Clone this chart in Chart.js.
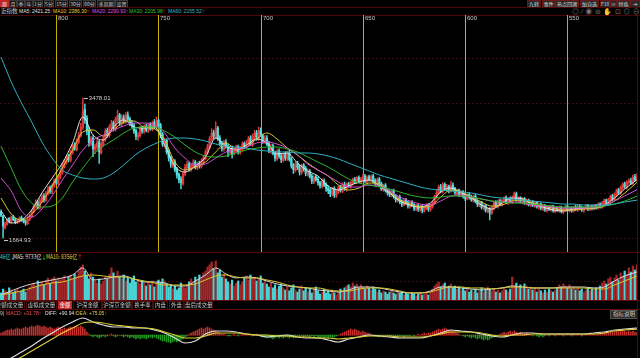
<!DOCTYPE html>
<html><head><meta charset="utf-8">
<script src="https://cdn.jsdelivr.net/npm/chart.js@4.4.0/dist/chart.umd.min.js"></script>
<style>
html,body{margin:0;padding:0;background:#000;width:640px;height:358px;overflow:hidden;font-family:"Liberation Sans","Noto Sans CJK SC",sans-serif;}
canvas{position:absolute;left:0;}
.t{position:absolute;white-space:nowrap;font-size:6px;line-height:7px;transform:scaleX(0.83);transform-origin:0 0;}
.bt{position:absolute;top:0;height:6px;font-size:5px;line-height:6px;text-align:center;color:#c4c4c4;background:#161616;border:1px solid #3a3a3a;box-sizing:content-box;white-space:nowrap;overflow:hidden;font-family:"Noto Sans CJK SC",sans-serif;}
.rb{background:#2a2a2a;border-color:#6a1818;color:#ddd;}
.hl{position:absolute;left:0;width:640px;height:1px;background:#4a0808;}
.tab{position:absolute;top:301px;height:7px;font-size:5.5px;line-height:7px;color:#c8c8c8;border:1px solid #4a0c0c;text-align:center;white-space:nowrap;overflow:hidden;font-family:"Noto Sans CJK SC",sans-serif;}
.cjk{font-family:"Noto Sans CJK SC",sans-serif;}
</style></head><body>

<!-- toolbar -->
<div class="bt" style="left:0;width:7px;background:#c0262a;color:#fff;border-color:#c0262a">周</div>
<div class="bt" style="left:9px;width:6px">月</div>
<div class="bt" style="left:17px;width:6px">季</div>
<div class="bt" style="left:25px;width:6px">年</div>
<div class="bt" style="left:33px;width:8px">1分</div>
<div class="bt" style="left:44px;width:8px">5分</div>
<div class="bt" style="left:55px;width:11px">15分</div>
<div class="bt" style="left:69px;width:11px">30分</div>
<div class="bt" style="left:83px;width:11px">60分</div>
<div class="bt" style="left:97px;width:16px">多周期</div>
<div class="bt" style="left:115px;width:11px">设置</div>

<div class="bt rb" style="left:527px;width:12px">九转</div>
<div class="bt rb" style="left:542px;width:11px">事件</div>
<div class="bt rb" style="left:555px;width:22px">热点回溯</div>
<div class="bt rb" style="left:580px;width:17px">加自选</div>
<div class="bt rb" style="left:600px;width:8px">F10</div>
<div class="bt rb" style="left:610px;width:5px">≡</div>
<div class="bt rb" style="left:617px;width:11px">特色</div>
<div class="bt rb" style="left:630px;width:8px">⇥</div>

<div class="hl" style="top:7px"></div>
<div class="hl" style="top:15px"></div>

<!-- main legend -->
<div class="t cjk" style="left:1px;top:8px;color:#c8c8c8;transform:none;font-size:5.5px">近指数</div>
<div class="t" style="left:19px;top:8px;color:#e0e0e0">MA5: 2421.25<span style="color:#ff4040">↑</span></div>
<div class="t" style="left:53px;top:8px;color:#e0d040">MA10: 2386.30<span style="color:#ff4040">↑</span></div>
<div class="t" style="left:92px;top:8px;color:#e050e0">MA20: 2290.93<span style="color:#ff4040">↑</span></div>
<div class="t" style="left:129px;top:8px;color:#30c030">MA30: 2205.98<span style="color:#ff4040">↑</span></div>
<div class="t" style="left:168px;top:8px;color:#30b8c8">MA60: 2155.52<span style="color:#ff4040">↑</span></div>
<div class="t" style="left:572px;top:8px;color:#777;font-size:7px;letter-spacing:2.5px;transform:none">◎∕◉⊜✋⊡⊙⊖</div>

<canvas id="cMain" width="638" height="237" style="top:15px"></canvas>

<div class="hl" style="top:252px"></div>
<div class="t cjk" style="left:0px;top:253px;color:#40d0d0">46亿<span>↓</span></div>
<div class="t cjk" style="left:13px;top:253px;color:#e0e0e0">MA5: 9733亿<span style="color:#30d030">↓</span></div>
<div class="t cjk" style="left:46px;top:253px;color:#e0d040">MA10: 8356亿<span style="color:#ff4040">↑</span></div>

<canvas id="cVol" width="638" height="49" style="top:252px"></canvas>

<div class="hl" style="top:300px;background:#5a0a0a"></div>
<div class="tab" style="left:-6px;width:29px">金额成交量</div>
<div class="tab" style="left:26px;width:29px">虚拟成交量</div>
<div class="tab" style="left:58px;width:12px;background:#c0262a;color:#fff;border-color:#c0262a">金额</div>
<div class="tab" style="left:73px;width:27px">沪深金额</div>
<div class="tab" style="left:102px;width:28px">沪深京金额</div>
<div class="tab" style="left:132px;width:19px">换手率</div>
<div class="tab" style="left:153px;width:13px">内盘</div>
<div class="tab" style="left:169px;width:13px">外盘</div>
<div class="tab" style="left:184px;width:27px">盘后成交量</div>
<div class="hl" style="top:309px;background:#5a0a0a"></div>

<div class="t" style="left:0px;top:310px;color:#c8c8c8">9)</div>
<div class="t" style="left:6px;top:310px;color:#ff5050">MACD: +31.78<span>↑</span></div>
<div class="t" style="left:45px;top:310px;color:#e0e0e0">DIFF: +90.94<span style="color:#ff4040">↑</span></div>
<div class="t" style="left:76px;top:310px;color:#e0d040">DEA: +75.05<span style="color:#ff4040">↑</span></div>
<div class="t cjk" style="left:610px;top:310px;width:26px;height:7px;background:#262626;border:1px solid #555;color:#ccc;text-align:center;font-size:5.5px;transform:none">指标说明</div>

<canvas id="cMacd" width="638" height="43" style="top:315px"></canvas>
<div style="position:absolute;left:637px;top:15px;width:1px;height:343px;background:#4a0808"></div>

<script>
// ---------- data ----------
const markIdx = [27, 77, 127, 177, 227, 277];
const markLabels = ['800', '750', '700', '650', '600', '550'];

const openP = [
2000,1950,1800,1840,1920,1870,1940,1910,1860,1880,
1930,1910,1890,1850,1900,1940,2000,2070,2130,2050,
2140,2210,2150,2240,2320,2260,2340,2420,2370,2450,
2510,2590,2640,2720,2670,2770,2870,2810,2910,2990,
3090,3330,3220,3060,2880,2960,2810,2840,2910,2770,
2870,2940,3060,2990,3090,3160,3070,3190,3260,3140,
3230,3170,3260,3210,3160,3130,3060,2970,2990,3090,
3040,3110,3050,3130,3070,3160,3090,3190,3130,3010,
2870,2930,2790,2710,2600,2660,2560,2490,2430,2370,
2490,2570,2630,2550,2590,2650,2570,2630,2590,2650,
2690,2770,2840,2940,3030,2970,3090,2960,2890,2810,
2910,2860,2770,2830,2750,2790,2850,2770,2810,2890,
2840,2890,2960,2870,2970,3030,2950,3060,2990,2910,
2960,2890,2790,2860,2770,2690,2790,2730,2670,2750,
2690,2770,2690,2610,2540,2630,2590,2510,2610,2570,
2490,2530,2470,2390,2460,2430,2390,2330,2410,2360,
2310,2290,2230,2310,2210,2250,2330,2270,2360,2290,
2370,2330,2370,2430,2380,2450,2390,2420,2470,2390,
2460,2410,2470,2410,2370,2430,2370,2290,2350,2290,
2260,2220,2280,2210,2150,2200,2150,2090,2160,2130,
2070,2130,2100,2040,2090,2030,2080,2010,2050,2100,
2030,2070,2110,2190,2250,2330,2270,2360,2290,2340,
2270,2350,2310,2240,2290,2220,2270,2210,2170,2230,
2200,2150,2210,2150,2090,2130,2050,2090,2010,2050,
1990,2050,2130,2070,2150,2090,2140,2190,2120,2180,
2130,2180,2240,2150,2190,2130,2180,2110,2160,2090,
2140,2080,2130,2060,2110,2040,2090,2020,2070,2030,
2080,2010,2060,2020,2070,2000,2030,2080,2020,2060,
2010,2070,2030,2080,2060,2020,2050,2090,2030,2080,
2040,2090,2050,2110,2060,2110,2160,2100,2150,2210,
2160,2220,2290,2240,2310,2370,2320,2380,2410,2370,2460,2410];

const closeP = [
1960,1820,1850,1900,1880,1930,1900,1870,1890,1920,
1900,1880,1860,1910,1950,2010,2080,2120,2060,2150,
2200,2160,2250,2300,2270,2350,2400,2380,2460,2520,
2600,2650,2700,2680,2780,2850,2820,2920,3000,3100,
3300,3200,3050,2900,2950,2820,2850,2900,2780,2880,
2950,3050,3000,3100,3150,3080,3200,3250,3150,3220,
3180,3250,3200,3150,3120,3050,2980,3000,3080,3050,
3100,3060,3120,3080,3150,3100,3180,3120,3000,2880,
2920,2780,2700,2620,2650,2550,2480,2420,2380,2500,
2580,2620,2560,2600,2640,2580,2620,2600,2660,2700,
2780,2850,2950,3020,2980,3080,2950,2880,2820,2900,
2850,2780,2820,2760,2800,2840,2780,2820,2880,2850,
2900,2950,2880,2980,3020,2960,3050,3000,2920,2950,
2880,2800,2850,2760,2700,2780,2720,2680,2740,2700,
2760,2680,2600,2550,2620,2580,2520,2600,2560,2500,
2520,2460,2400,2450,2420,2380,2340,2400,2350,2300,
2280,2240,2300,2220,2260,2320,2280,2350,2300,2360,
2340,2380,2420,2390,2440,2400,2430,2460,2400,2450,
2420,2460,2400,2380,2420,2360,2300,2340,2280,2250,
2230,2270,2200,2160,2190,2140,2100,2150,2120,2080,
2120,2090,2050,2080,2040,2070,2020,2060,2090,2040,
2080,2120,2200,2260,2320,2280,2350,2300,2330,2280,
2340,2300,2250,2280,2230,2260,2200,2180,2220,2190,
2160,2200,2140,2100,2120,2060,2080,2020,2040,1990,
2060,2120,2080,2140,2100,2150,2180,2130,2170,2140,
2190,2230,2160,2180,2140,2170,2120,2150,2100,2130,
2090,2120,2070,2100,2050,2080,2030,2060,2040,2070,
2020,2050,2030,2060,2010,2040,2070,2030,2050,2020,
2060,2040,2070,2050,2030,2060,2080,2040,2070,2050,
2080,2060,2100,2070,2120,2150,2110,2160,2200,2170,
2230,2280,2250,2320,2360,2330,2390,2400,2380,2450,2420,2460];

const highP = [
2030,1960,1870,1920,1930,1950,1960,1920,1910,1940,
1950,1920,1900,1930,1970,2030,2100,2160,2150,2180,
2230,2240,2270,2330,2340,2370,2430,2440,2480,2550,
2630,2680,2730,2750,2800,2880,2900,2950,3030,3150,
3478.01,3400,3250,3100,2980,2990,2880,2950,2930,2910,
2980,3080,3090,3130,3190,3180,3230,3320,3280,3260,
3260,3290,3300,3230,3190,3150,3080,3030,3110,3110,
3130,3140,3150,3160,3180,3200,3230,3210,3150,3030,
2960,2950,2810,2730,2680,2680,2580,2510,2460,2530,
2620,2660,2650,2630,2680,2670,2650,2660,2690,2730,
2810,2880,2980,3080,3060,3170,3110,2990,2920,2930,
2940,2880,2850,2860,2830,2870,2870,2850,2910,2910,
2930,2980,2990,3010,3060,3060,3100,3090,3010,2990,
2990,2920,2880,2880,2790,2810,2820,2760,2760,2780,
2790,2800,2710,2630,2650,2660,2610,2620,2630,2590,
2560,2550,2490,2470,2480,2450,2400,2430,2430,2380,
2340,2310,2320,2330,2280,2340,2350,2380,2390,2380,
2390,2400,2440,2450,2460,2470,2450,2490,2490,2470,
2480,2480,2490,2430,2440,2450,2390,2360,2370,2300,
2290,2290,2300,2230,2210,2220,2160,2170,2180,2140,
2140,2150,2110,2100,2100,2090,2090,2080,2110,2110,
2100,2140,2220,2290,2350,2360,2380,2380,2360,2350,
2400,2380,2320,2300,2300,2280,2280,2230,2240,2250,
2220,2220,2230,2160,2140,2140,2100,2100,2060,2060,
2080,2140,2150,2160,2170,2170,2200,2210,2190,2200,
2210,2260,2260,2200,2200,2190,2190,2170,2170,2150,
2150,2140,2140,2120,2120,2100,2100,2080,2080,2090,
2090,2070,2070,2080,2080,2060,2090,2090,2070,2070,
2080,2090,2090,2100,2080,2070,2100,2100,2090,2090,
2100,2100,2120,2120,2140,2170,2170,2180,2220,2230,
2250,2300,2310,2340,2380,2390,2410,2430,2440,2480,2490,2500];

const lowP = [
1940,1664.93,1780,1830,1860,1860,1890,1850,1850,1870,
1880,1860,1830,1840,1890,1930,1990,2050,2040,2040,
2120,2130,2140,2220,2240,2240,2320,2360,2350,2430,
2490,2570,2620,2650,2650,2750,2800,2790,2890,2970,
3070,3150,3000,2850,2860,2720,2760,2800,2630,2750,
2850,2920,2970,2970,3060,3050,3050,3170,3120,3110,
3150,3150,3180,3120,3090,3020,2940,2930,2970,3020,
3020,3040,3030,3060,3050,3080,3070,3100,2960,2850,
2840,2750,2660,2580,2580,2520,2440,2380,2300,2350,
2470,2550,2530,2530,2570,2560,2550,2570,2570,2630,
2680,2750,2820,2920,2950,2950,2930,2860,2790,2790,
2830,2720,2750,2700,2740,2770,2750,2750,2790,2820,
2820,2870,2860,2850,2950,2930,2930,2980,2890,2890,
2860,2770,2760,2740,2660,2670,2700,2640,2650,2670,
2670,2660,2570,2500,2520,2550,2480,2490,2530,2470,
2470,2440,2370,2370,2400,2350,2310,2310,2330,2270,
2240,2200,2210,2190,2190,2240,2260,2250,2280,2270,
2320,2310,2350,2370,2370,2380,2370,2400,2380,2370,
2400,2390,2380,2350,2350,2340,2280,2270,2260,2220,
2200,2200,2180,2130,2130,2110,2070,2080,2100,2050,
2050,2070,2020,2020,2010,2010,1990,2000,2030,2010,
2010,2050,2100,2170,2230,2250,2250,2280,2270,2250,
2260,2280,2230,2220,2200,2200,2180,2150,2160,2170,
2140,2130,2120,2070,2070,2040,2030,2000,1990,1900,
1970,2030,2060,2050,2080,2080,2120,2110,2100,2120,
2110,2160,2140,2130,2120,2110,2100,2090,2080,2070,
2070,2060,2050,2040,2030,2020,2010,2000,2020,2010,
2000,1990,2010,2000,1990,1980,2010,2010,2000,2000,
2000,2020,2010,2030,2010,2000,2040,2020,2020,2030,
2030,2040,2040,2050,2050,2100,2100,2090,2140,2150,
2150,2200,2230,2230,2290,2310,2300,2360,2360,2360,2400,2400];

// moving-average lines, read at these bar positions
const maIdx = [0,5,10,15,20,25,30,35,40,45,50,55,60,65,70,75,80,85,90,95,100,105,110,115,120,125,130,135,140,145,150,155,160,165,170,175,180,185,190,195,200,205,210,215,220,225,230,235,240,245,250,255,260,265,270,275,280,285,290,295,300,305,311];

const ma5 = [2015,1859,1898,2028,2248,2442,2636,2895,3232,2999,2934,3102,3193,3102,3089,3102,2869,2597,2520,2597,2714,2960,2856,2805,2869,2947,2895,2753,2766,2636,2533,2468,2338,2287,2338,2390,2416,2338,2248,2144,2092,2066,2118,2261,2312,2248,2183,2092,2040,2118,2183,2170,2105,2066,2028,2015,2040,2053,2053,2092,2183,2299,2421.25];
const ma10 = [2183,1976,1898,1976,2131,2338,2571,2805,3038,3064,2986,3064,3167,3180,3102,3077,2934,2649,2546,2584,2649,2779,2895,2817,2843,2947,3025,2947,2830,2740,2636,2546,2468,2351,2287,2312,2377,2364,2261,2157,2105,2066,2079,2196,2287,2261,2196,2131,2079,2092,2144,2157,2118,2079,2053,2028,2028,2040,2053,2079,2144,2248,2386.30];
const ma20 = [2442,2274,2015,1937,2040,2209,2416,2610,2805,2934,2999,3064,3115,3154,3154,3128,3025,2830,2701,2610,2623,2701,2779,2817,2843,2895,2908,2882,2830,2740,2623,2546,2468,2390,2325,2325,2351,2338,2274,2196,2144,2105,2092,2144,2209,2222,2196,2170,2144,2131,2131,2118,2092,2079,2066,2053,2053,2053,2066,2092,2144,2209,2290.93];
const ma30 = [2856,2571,2287,2118,2066,2079,2183,2390,2571,2740,2856,2934,3025,3089,3102,3102,3051,2973,2869,2779,2727,2714,2727,2766,2805,2830,2843,2843,2817,2779,2714,2649,2584,2507,2429,2377,2351,2325,2299,2261,2222,2196,2183,2196,2209,2209,2196,2170,2144,2131,2118,2118,2105,2092,2079,2066,2066,2066,2066,2079,2105,2144,2205.98];
const ma60 = [4009,3685,3413,3167,2908,2701,2545,2481,2442,2429,2442,2507,2610,2727,2817,2882,2934,2960,2960,2947,2921,2882,2856,2843,2830,2805,2792,2779,2779,2766,2766,2753,2727,2688,2636,2584,2533,2481,2442,2403,2364,2325,2299,2287,2274,2261,2248,2222,2196,2183,2170,2157,2144,2131,2118,2105,2105,2092,2092,2092,2105,2131,2155.52];

// turnover (亿)
const volume = [
2700,4000,3400,3000,4400,3700,2700,3400,4000,3000,
3400,4000,3000,3700,4700,5400,6000,5000,6700,5700,
6400,5400,7000,7700,6000,7400,8000,6700,7700,7000,
7400,8400,6700,8000,8700,7700,9000,8400,10000,11400,
12100,10000,8700,7400,9400,8000,6700,6000,7400,5700,
6700,8000,7400,9000,11100,9400,8400,10000,8000,7400,
8700,6700,7700,6000,7400,8400,6400,7000,5700,6700,
6000,5000,6400,5400,6700,4700,5700,7000,6000,7400,
6700,5700,4700,5400,4000,5000,3700,4400,6000,4700,
4400,5400,6400,7400,6000,8000,7000,8700,7700,9400,
10000,11400,12100,13100,10700,13400,9400,10400,8000,9000,
7400,6400,5700,7000,5000,6000,6700,5400,6400,7700,
8400,7000,8700,7700,8000,6700,7400,8400,6000,7000,
5700,4700,6000,4400,5400,4000,5000,5700,4400,3700,
4700,3400,4400,5400,3700,3000,4000,5000,3400,4400,
3000,4000,2700,3700,4700,3400,2300,3000,4000,2700,
3400,2300,3700,2700,2000,3000,4000,3400,4400,5000,
5400,4700,6000,5000,5700,4400,5400,4700,4000,5000,
4400,3700,4700,4000,3000,3700,2700,3400,3000,2300,
3000,3400,2700,2300,3400,2700,3000,2000,2700,2300,
2000,2700,2300,1700,2300,3000,2000,2300,2700,2000,
3000,4000,5000,5700,6400,4700,5400,6000,4400,5000,
5700,4400,5000,4000,4700,3700,4400,3400,4000,3000,
3700,3000,4000,2700,3400,4400,3000,3700,4700,4000,
3400,4000,3000,3700,2700,3400,4400,3700,3000,4000,
8000,5000,6000,4700,5400,4400,5700,5000,4000,4700,
3700,4400,3000,4000,3400,2700,3700,3000,4000,3400,
3000,3700,4400,5400,4700,5700,5000,4400,5400,4000,
4700,3700,4400,3400,4000,3000,3700,4400,3400,4000,
3700,4400,3400,5000,6000,6700,5700,7400,8000,6400,
7700,8700,7000,9400,8400,10000,9000,11100,9700,11700,10400,12100];

const volMa5 = [2010,3350,4690,5700,6370,7040,7710,8710,11060,7040,7370,8040,8380,7370,6370,6370,6030,5030,5030,6700,8710,11060,9050,7710,8040,7710,6700,5700,5030,4690,4360,3690,3350,3020,3690,4690,4690,4360,3690,3020,2680,2680,3350,4690,4690,4360,4020,3690,4020,4360,5030,4690,4360,4360,4360,4690,4690,4690,4360,4690,6700,8380,9733];
const volMa10 = [2010,2680,3350,4360,5360,6030,6370,7370,8380,8710,8380,8040,8040,7370,6700,6030,5360,5360,5360,5700,7040,8380,8710,8040,7710,7710,7040,6370,5360,4690,4360,4360,3690,3350,3350,4020,4360,4360,4020,3350,2680,2680,3020,4020,4690,4690,4360,4360,4020,4360,4690,4690,4360,4360,4360,4360,4360,4360,4020,4020,5360,6700,8356];

// MACD
const macdHist = [
26,39,52,65,65,78,65,78,91,78,
78,91,104,91,104,117,104,117,130,117,
104,117,104,91,104,91,78,91,104,91,
78,91,78,91,104,91,104,117,104,117,
104,78,39,13,-13,-26,-13,-26,-39,-26,
-13,-26,-13,0,13,-13,-26,-13,0,-13,
-26,-13,-26,-39,-26,-39,-52,-39,-52,-39,
-39,-52,-39,-26,-39,-26,-39,-52,-65,-78,
-78,-91,-91,-104,-91,-78,-91,-78,-65,-52,
-26,-13,13,26,39,52,65,78,91,78,
91,104,91,78,65,52,39,26,13,13,
0,-13,-13,0,13,0,-13,0,13,0,
0,13,0,-13,0,13,0,-13,-26,-26,
-39,-26,-39,-52,-39,-26,-39,-26,-39,-26,
-26,-39,-26,-39,-26,-13,-26,-13,-26,-13,
-13,-26,-13,-26,-13,-26,-39,-26,-39,-26,
-39,-26,-39,-26,-13,0,13,26,39,52,
65,78,65,78,65,52,39,52,39,26,
26,13,0,-13,-13,-26,-13,-26,-26,-13,
-26,-13,-26,-13,-26,-13,-13,-26,-13,-13,
-13,0,-13,0,13,0,13,26,13,26,
26,39,52,65,78,65,78,91,78,65,
65,52,39,26,13,0,-13,-26,-13,-26,
-39,-26,-39,-52,-39,-52,-65,-52,-65,-52,
-39,-26,-13,0,13,26,39,26,39,52,
39,52,39,26,39,26,13,26,13,0,
-13,0,-13,-26,-13,-26,-13,0,-13,0,
0,-13,0,13,0,-13,0,13,0,-13,
13,0,13,0,-13,0,13,0,13,13,
13,0,13,26,13,26,39,26,39,39,
39,52,39,52,65,52,39,52,39,52,39,31.78];
const diff = [-351,-299,-221,-143,-52,26,104,169,221,169,130,104,104,91,91,65,26,-39,-104,-78,13,52,52,39,13,0,-26,-13,0,-26,-39,-39,-65,-91,-52,-26,0,-13,-26,-39,-39,-39,-13,26,65,52,39,13,-13,-26,0,26,26,13,13,13,13,13,26,39,65,78,90.94];
const dea = [-390,-351,-286,-208,-130,-52,26,91,156,169,156,130,117,104,91,78,39,0,-39,-39,-13,26,26,26,13,0,0,-13,-13,-26,-26,-39,-39,-52,-39,-26,-13,-13,-13,-26,-26,-26,-13,13,39,39,39,26,0,-13,0,0,13,13,13,13,13,13,13,26,52,65,75.05];

// ---------- drawing ----------
const N = closeP.length;
const labels = closeP.map((_, i) => i);
const up = closeP.map((c, i) => c >= openP[i]);
const candleColors = up.map(u => u ? '#e2393b' : '#52dede');
const volColors = up.map(u => u ? '#a3272a' : '#48d4d4');
const histColors = macdHist.map(v => v >= 0 ? '#c8302e' : '#229c22');
const pts = vals => maIdx.map((x, k) => ({ x, y: vals[k] }));

const lineDs = (vals, color, w) => ({
  type: 'line', data: pts(vals), xAxisID: 'xl', yAxisID: 'y',
  borderColor: color, borderWidth: w || 1, pointRadius: 0,
  cubicInterpolationMode: 'monotone', fill: false, order: 0
});

const baseOpts = (ymin, ymax, pad) => ({
  responsive: false, animation: false, devicePixelRatio: 1, events: [],
  layout: { padding: pad || 0 },
  plugins: { legend: { display: false }, tooltip: { enabled: false } },
  scales: {
    x: { type: 'category', display: false, offset: true },
    xl: { type: 'linear', display: false, offset: false, bounds: 'data', min: -0.5, max: N - 0.5 },
    y: { display: false, min: ymin, max: ymax }
  }
});

const gridFrac = [0.165, 0.361, 0.557, 0.752, 0.948];

const mainDecor = {
  id: 'mainDecor',
  beforeDatasetsDraw(chart) {
    const { ctx, chartArea: a, scales } = chart;
    ctx.save();
    ctx.strokeStyle = '#3c0a0a';
    ctx.setLineDash([2, 2]);
    ctx.lineWidth = 1;
    gridFrac.forEach(f => {
      const y = Math.round(a.top + f * (a.bottom - a.top)) + 0.5;
      ctx.beginPath(); ctx.moveTo(0, y); ctx.lineTo(chart.width, y); ctx.stroke();
    });
    ctx.setLineDash([]);
    ctx.strokeStyle = '#c4b000';
    ctx.fillStyle = '#c8c8c8';
    ctx.font = '6px "Liberation Sans", sans-serif';
    ctx.textBaseline = 'middle';
    markIdx.forEach((idx, k) => {
      const x = Math.round(scales.x.getPixelForValue(idx)) + 0.5;
      ctx.beginPath(); ctx.moveTo(x, 0); ctx.lineTo(x, chart.height); ctx.stroke();
      ctx.fillText(markLabels[k], x + 1.5, 3.5);
    });
    ctx.restore();
  },
  afterDatasetsDraw(chart) {
    const { ctx, scales } = chart;
    ctx.save();
    ctx.fillStyle = '#d0d0d0';
    ctx.strokeStyle = '#d0d0d0';
    ctx.font = '6px "Liberation Sans", sans-serif';
    ctx.textBaseline = 'middle';
    let hi = 0, lo = 0;
    highP.forEach((v, i) => { if (v > highP[hi]) hi = i; });
    lowP.forEach((v, i) => { if (v < lowP[lo]) lo = i; });
    const hx = scales.x.getPixelForValue(hi), hy = scales.y.getPixelForValue(highP[hi]);
    ctx.beginPath(); ctx.moveTo(hx + 1, hy + 0.5); ctx.lineTo(hx + 5, hy + 0.5); ctx.stroke();
    ctx.fillText(highP[hi].toFixed(2), hx + 6, hy);
    const lx = scales.x.getPixelForValue(lo), ly = scales.y.getPixelForValue(lowP[lo]);
    ctx.beginPath(); ctx.moveTo(lx + 1, ly + 2.5); ctx.lineTo(lx + 5, ly + 2.5); ctx.stroke();
    ctx.fillText(lowP[lo].toFixed(2), lx + 6, ly + 2.5);
    ctx.restore();
  }
};

new Chart(document.getElementById('cMain'), {
  type: 'bar',
  data: {
    labels,
    datasets: [
      lineDs(ma60, '#2fb0c0'),
      lineDs(ma30, '#2fb52f'),
      lineDs(ma20, '#d24ed2'),
      lineDs(ma10, '#d8c832'),
      lineDs(ma5, '#e2e2e2'),
      { type: 'bar', data: lowP.map((l, i) => [l, highP[i]]), backgroundColor: candleColors,
        barThickness: 0.8, grouped: false, order: 2 },
      { type: 'bar', data: openP.map((o, i) => [o, closeP[i]]), backgroundColor: candleColors,
        barThickness: 1.6, minBarLength: 1, grouped: false, order: 1 }
    ]
  },
  options: baseOpts(1510, 4488, { top: 5, bottom: 2, left: 0, right: 0 }),
  plugins: [mainDecor]
});

const volDecor = {
  id: 'volDecor',
  beforeDatasetsDraw(chart) {
    const { ctx, chartArea: a } = chart;
    ctx.save();
    ctx.strokeStyle = '#3c0a0a';
    ctx.setLineDash([2, 2]);
    const y = Math.round(a.top + 0.59 * (a.bottom - a.top)) + 0.5;
    ctx.beginPath(); ctx.moveTo(0, y); ctx.lineTo(chart.width, y); ctx.stroke();
    ctx.restore();
  }
};

new Chart(document.getElementById('cVol'), {
  type: 'bar',
  data: {
    labels,
    datasets: [
      lineDs(volMa10, '#d8c832'),
      lineDs(volMa5, '#d8d8d8'),
      { type: 'bar', data: volume, backgroundColor: volColors, barThickness: 1.6, grouped: false, order: 1 }
    ]
  },
  options: baseOpts(0, 16400),
  plugins: [volDecor]
});

const macdDecor = {
  id: 'macdDecor',
  beforeDatasetsDraw(chart) {
    const { ctx, scales } = chart;
    ctx.save();
    ctx.strokeStyle = '#4a0c0c';
    const y = Math.round(scales.y.getPixelForValue(0)) + 0.5;
    ctx.beginPath(); ctx.moveTo(0, y); ctx.lineTo(chart.width, y); ctx.stroke();
    ctx.restore();
  }
};

new Chart(document.getElementById('cMacd'), {
  type: 'bar',
  data: {
    labels,
    datasets: [
      lineDs(dea, '#d8cc36', 1.2),
      lineDs(diff, '#dcdcdc', 1.2),
      { type: 'bar', data: macdHist, backgroundColor: histColors, barThickness: 0.9, grouped: false, order: 1 }
    ]
  },
  options: baseOpts(-299, 260),
  plugins: [macdDecor]
});
</script>
</body></html>
